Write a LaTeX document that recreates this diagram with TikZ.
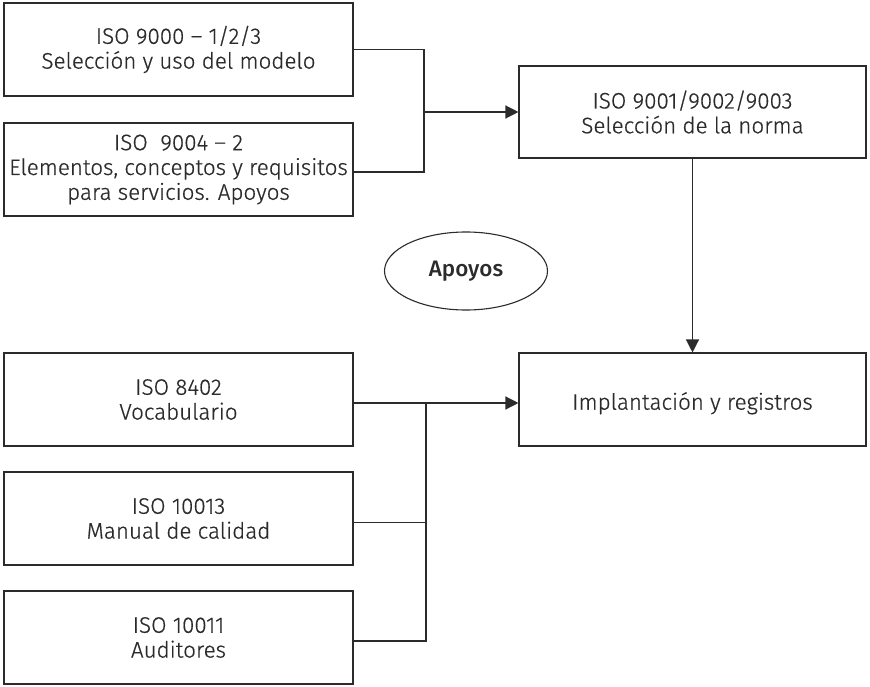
\documentclass[tikz,border=0pt]{standalone}
\usepackage{fontspec}
\setmainfont{Fira Sans Light}[BoldFont={Fira Sans Medium}, UprightFeatures={FakeBold=0.6}]
\usetikzlibrary{arrows.meta,shapes.geometric}
\definecolor{ink}{HTML}{2B2B2B}
\begin{document}
\begin{tikzpicture}[x=1pt,y=-1pt,
  every node/.style={text=ink, font=\fontsize{22.4}{24.8}\selectfont},
  box/.style={draw=ink, line width=1.1pt, rectangle, align=center, inner sep=0pt,
    minimum width=349pt, minimum height=93pt,
    % a tall strut on the first line sets the text a little below the middle
    execute at begin node={\rule{0pt}{25pt}}},
  widebox/.style={box, minimum width=347pt, minimum height=92pt},
  link/.style={draw=ink, line width=1.3pt},
  arrowlink/.style={link, -{Triangle[length=13pt, width=13pt]}}]
\useasboundingbox (0,0) rectangle (870,687);

% standards on the left
\node[box] (iso9000) at (178.5,49.5) {ISO 9000 – 1/2/3\\Selección y uso del modelo};
\node[box] (iso9004) at (178.5,169.5) {ISO\ \ 9004 – 2\\Elementos, conceptos y requisitos\\para servicios. Apoyos};
\node[box] (iso8402) at (178.5,399.5) {ISO 8402\\Vocabulario};
\node[box] (iso10013) at (178.5,518.5) {ISO 10013\\Manual de calidad};
\node[box] (iso10011) at (178.5,637.5) {ISO 10011\\Auditores};

% process on the right
\node[widebox] (norma) at (692.5,112) {ISO 9001/9002/9003\\Selección de la norma};
\node[widebox, minimum height=93pt] (impl) at (692.5,399.5) {Implantación y registros};

% support label
\node[draw=ink, line width=1.1pt, ellipse, minimum width=163pt, minimum height=78pt,
  inner sep=0pt, font=\fontsize{22.4}{24.8}\selectfont\bfseries] (apoyos) at (466,271) {Apoyos};

% connectors
\coordinate (busA) at (424,112);
\coordinate (busB) at (426,403);
\draw[link] (iso9000.east) -| (busA) |- ([yshift=-2.5pt]iso9004.east);
\draw[arrowlink] (busA) -- (norma.west);
\draw[arrowlink] (norma.south) -- (impl.north);
\draw[arrowlink] (iso8402.east |- busB) -- (impl.west |- busB);
\draw[link] (busB) |- ([yshift=-3.5pt]iso10011.east);
\draw[link] ([yshift=-4pt]iso10013.east) -- ([yshift=-4pt]iso10013.east -| busB);
\end{tikzpicture}
\end{document}
